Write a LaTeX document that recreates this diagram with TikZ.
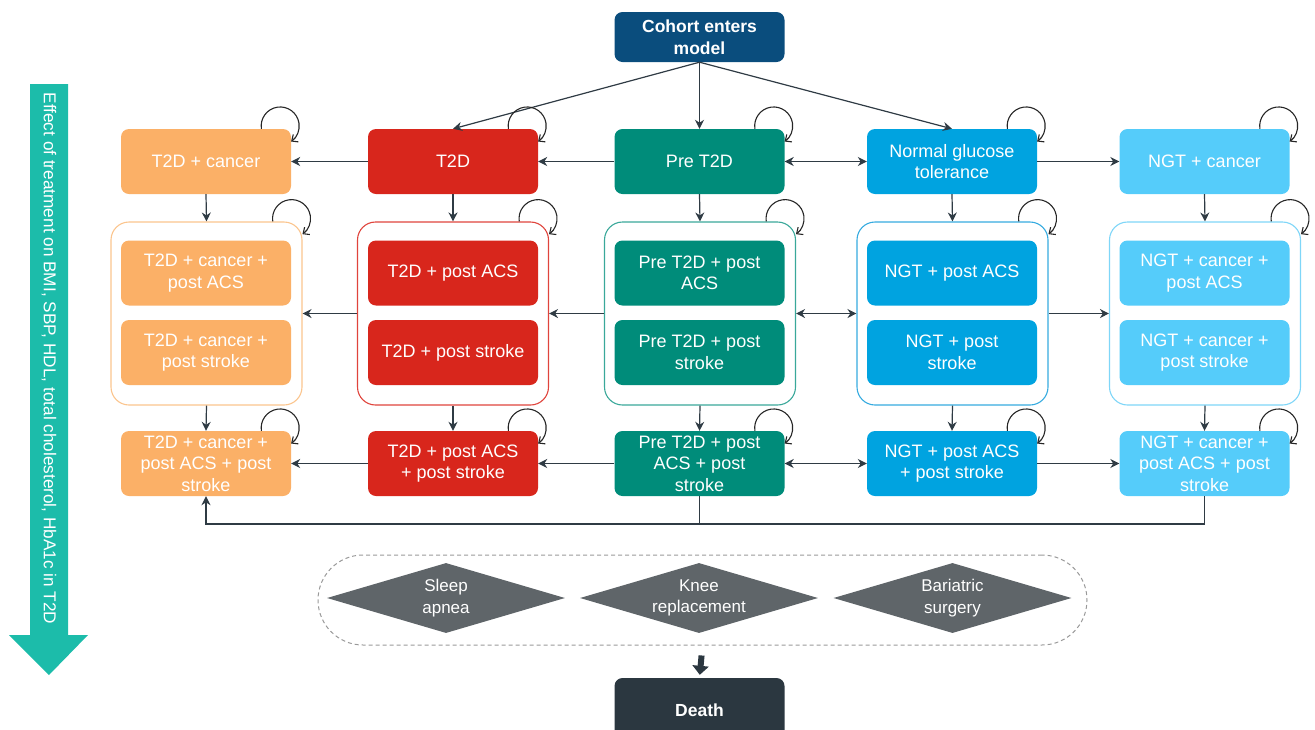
\documentclass[tikz,border=0pt]{standalone}
\usepackage{fontspec}
\setmainfont{Liberation Sans}
\usetikzlibrary{arrows.meta,shapes.geometric}
\definecolor{cohortc}{HTML}{0A4D7D}
\definecolor{orangec}{HTML}{FBB067}
\definecolor{orangeb}{HTML}{FBC58E}
\definecolor{redc}{HTML}{D8261C}
\definecolor{redb}{HTML}{E0443C}
\definecolor{tealc}{HTML}{008C7A}
\definecolor{tealb}{HTML}{3AA89A}
\definecolor{bluec}{HTML}{00A3E0}
\definecolor{blueb}{HTML}{36ABE0}
\definecolor{lightc}{HTML}{55CCFA}
\definecolor{lightb}{HTML}{7FD6F8}
\definecolor{greyc}{HTML}{5F6569}
\definecolor{deathc}{HTML}{2B3740}
\definecolor{linec}{HTML}{2F3B44}
\definecolor{arrowc}{HTML}{1CBCAA}
\begin{document}
\begin{tikzpicture}[x=1pt,y=1pt,
  box/.style={rounded corners=8pt, minimum width=170pt, minimum height=65pt, inner sep=2pt,
    text=white, align=center, font=\fontsize{18}{21.5}\selectfont},
  grp/.style={line width=1.1pt, rounded corners=18pt, minimum width=191pt, minimum height=183pt, fill=white},
  conn/.style={draw=linec, line width=1.2pt, -{Stealth[length=9pt,width=9pt]}},
  bconn/.style={draw=linec, line width=1.2pt, {Stealth[length=9pt,width=9pt]}-{Stealth[length=9pt,width=9pt]}},
  plain/.style={draw=linec, line width=1.2pt},
  loopline/.style={draw=black!85, line width=1.1pt, -{Straight Barb[length=5pt,width=9pt]}},
  dia/.style={diamond, aspect=3.4, fill=greyc, minimum width=238pt, minimum height=70pt, inner sep=0pt,
    text=white, align=center, font=\fontsize{17}{21.5}\selectfont}
]
\useasboundingbox (0,0) rectangle (1315,-729);

% left arrow
\fill[arrowc] (30,-84) -- (68,-84) -- (68,-635) -- (88,-635) -- (49,-675) -- (9,-635) -- (30,-635) -- cycle;
\node[rotate=-90, text=white, font=\fontsize{17.2}{20}\selectfont] (efftxt) at (49,-358.5)
  {Effect of treatment on BMI, SBP, HDL, total cholesterol, HbA1c in T2D};

% cohort
\node[box, fill=cohortc, minimum height=50pt, font=\bfseries\fontsize{17.5}{21.5}\selectfont] (coh) at (699.5,-37) {Cohort enters\\model};

% row 1
\node[box, fill=orangec] (r1a) at (206,-161.5) {T2D + cancer};
\node[box, fill=redc] (r1b) at (453,-161.5) {T2D};
\node[box, fill=tealc] (r1c) at (699.5,-161.5) {Pre T2D};
\node[box, fill=bluec] (r1d) at (952,-161.5) {Normal glucose\\tolerance};
\node[box, fill=lightc] (r1e) at (1204.5,-161.5) {NGT + cancer};

% groups
\node[grp, draw=orangeb] (ga) at (206.5,-313.5) {};
\node[grp, draw=redb] (gb) at (453,-313.5) {};
\node[grp, draw=tealb] (gc) at (700,-313.5) {};
\node[grp, draw=blueb] (gd) at (952.5,-313.5) {};
\node[grp, draw=lightb] (ge) at (1205,-313.5) {};

% row 2
\node[box, fill=orangec] (r2a1) at (206,-273) {T2D + cancer +\\post ACS};
\node[box, fill=redc] (r2b1) at (453,-273) {T2D + post ACS};
\node[box, fill=tealc] (r2c1) at (699.5,-273) {Pre T2D + post\\ACS};
\node[box, fill=bluec] (r2d1) at (952,-273) {NGT + post ACS};
\node[box, fill=lightc] (r2e1) at (1204.5,-273) {NGT + cancer +\\post ACS};
\node[box, fill=orangec] (r2a2) at (206,-352.5) {T2D + cancer +\\post stroke};
\node[box, fill=redc] (r2b2) at (453,-352.5) {T2D + post stroke};
\node[box, fill=tealc] (r2c2) at (699.5,-352.5) {Pre T2D + post\\stroke};
\node[box, fill=bluec] (r2d2) at (952,-352.5) {NGT + post\\stroke};
\node[box, fill=lightc] (r2e2) at (1204.5,-352.5) {NGT + cancer +\\post stroke};

% row 3
\node[box, fill=orangec] (r3a) at (206,-463.5) {T2D + cancer +\\post ACS + post\\stroke};
\node[box, fill=redc] (r3b) at (453,-463.5) {T2D + post ACS\\+ post stroke};
\node[box, fill=tealc] (r3c) at (699.5,-463.5) {Pre T2D + post\\ACS + post\\stroke};
\node[box, fill=bluec] (r3d) at (952,-463.5) {NGT + post ACS\\+ post stroke};
\node[box, fill=lightc] (r3e) at (1204.5,-463.5) {NGT + cancer +\\post ACS + post\\stroke};

% cohort arrows
\draw[conn] (coh.south) -- (r1b.north);
\draw[conn] (coh.south) -- (r1c.north);
\draw[conn] (coh.south) -- (r1d.north);

% horizontal row 1
\draw[conn] (r1b.west) -- (r1a.east);
\draw[conn] (r1c.west) -- (r1b.east);
\draw[bconn] (r1c.east) -- (r1d.west);
\draw[conn] (r1d.east) -- (r1e.west);
% horizontal row 2
\draw[conn] (gb.west) -- (ga.east);
\draw[conn] (gc.west) -- (gb.east);
\draw[bconn] (gc.east) -- (gd.west);
\draw[conn] (gd.east) -- (ge.west);
% horizontal row 3
\draw[conn] (r3b.west) -- (r3a.east);
\draw[conn] (r3c.west) -- (r3b.east);
\draw[bconn] (r3c.east) -- (r3d.west);
\draw[conn] (r3d.east) -- (r3e.west);

% vertical
\foreach \c in {a,b,c,d,e}{
  \draw[conn] (r1\c.south) -- (g\c.north);
  \draw[conn] (g\c.south) -- (r3\c.north);
}

% bottom return line
\coordinate (bl) at (206,-524);
\draw[plain] (r3c.south) -- (r3c.south |- bl);
\draw[conn] (r3e.south) |- (bl) -- (r3a.south);

% self loops
\foreach \n in {r1a,r1b,r1c,r1d,r1e,ga,gb,gc,gd,ge,r3a,r3b,r3c,r3d,r3e}{
  \draw[loopline] ([xshift=-29.8pt]\n.north east) arc[start angle=188.6, end angle=-55, radius=19];
}

% events
\node[draw=gray!80, dashed, dash pattern=on 4pt off 3pt, line width=1pt, rounded corners=45pt,
  minimum width=769pt, minimum height=90pt] (evt) at (702.5,-600) {};
\node[dia] (sleep) at (446,-598) {Sleep\\apnea};
\node[dia] (knee) at (699,-598) {Knee\\replacement};
\node[dia] (bari) at (952.5,-598) {Bariatric\\surgery};

% death
\node[box, fill=deathc, font=\bfseries\fontsize{17.5}{21.5}\selectfont] (death) at (699.5,-710.5) {Death};
\draw[draw=deathc, line width=6pt, -{Triangle[length=9pt,width=16pt]}, shorten <=10pt, shorten >=3pt] (evt.south) -- (death.north);
\end{tikzpicture}
\end{document}
